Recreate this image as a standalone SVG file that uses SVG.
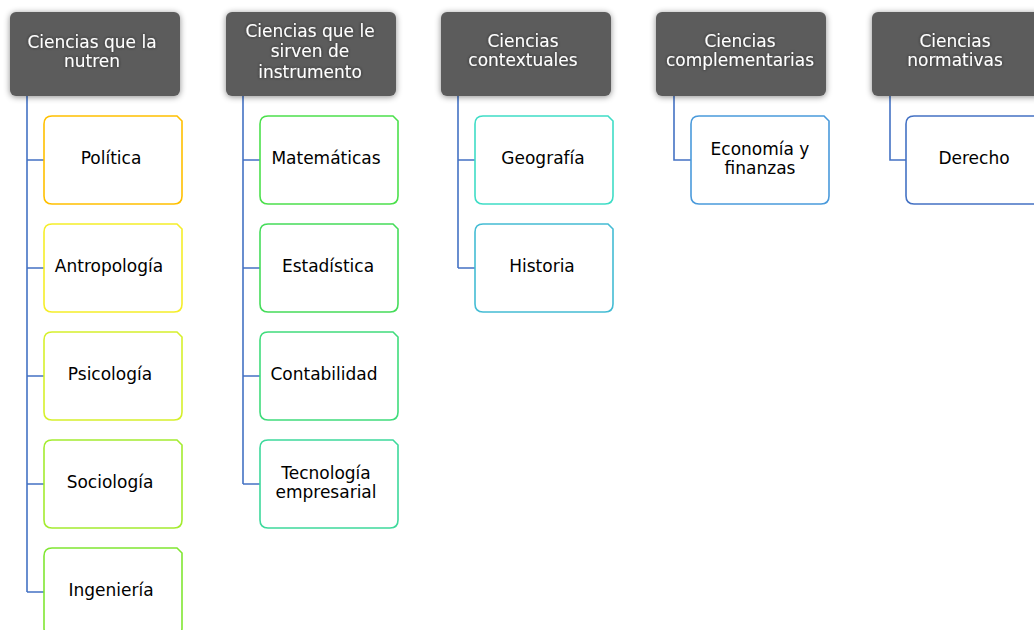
<svg xmlns="http://www.w3.org/2000/svg" width="1034" height="630" viewBox="0 0 1034 630">
<defs>
<filter id="sh" x="-20%" y="-20%" width="140%" height="150%">
<feDropShadow dx="0" dy="1" stdDeviation="3" flood-color="#000" flood-opacity="0.45"/>
</filter>
<filter id="tg" x="-10%" y="-30%" width="120%" height="160%">
<feDropShadow dx="0" dy="0" stdDeviation="1.5" flood-color="#222" flood-opacity="0.8"/>
</filter>
<path id="cb" d="M8,0 H133 L138,5 V80 Q138,88 130,88 H8 Q0,88 0,80 V8 Q0,0 8,0 Z"/>
</defs>
<style>
.hd{fill:#5b5b5b;filter:url(#sh)}
.ht{fill:#fff;font-family:"DejaVu Sans",Verdana,sans-serif;font-size:17px;text-anchor:middle;filter:url(#tg)}
.ct{fill:#000;font-family:"DejaVu Sans",Verdana,sans-serif;font-size:17px;text-anchor:middle}
.cb{fill:#fff;stroke-width:1.6}
.cn{fill:none;stroke:#4472C4;stroke-width:1.6}
</style>
<rect width="1034" height="630" fill="#fff"/>
<g id="connectors">
<path class="cn" d="M27,96 V592 M27,160 H44 M27,268 H44 M27,376 H44 M27,484 H44 M27,592 H44"/>
<path class="cn" d="M243,96 V484 M243,160 H260 M243,268 H260 M243,376 H260 M243,484 H260"/>
<path class="cn" d="M458,96 V268 M458,160 H475 M458,268 H475"/>
<path class="cn" d="M674,96 V160 H691"/>
<path class="cn" d="M890,96 V160 H906"/>
</g>
<g id="h1"><rect class="hd" x="10" y="12" width="170" height="84" rx="6"/><text class="ht" x="92" y="48">Ciencias que la</text><text class="ht" x="92" y="67">nutren</text></g>
<g id="h2"><rect class="hd" x="226" y="12" width="170" height="84" rx="6"/><text class="ht" x="310" y="37">Ciencias que le</text><text class="ht" x="310" y="57">sirven de</text><text class="ht" x="310" y="78">instrumento</text></g>
<g id="h3"><rect class="hd" x="441" y="12" width="170" height="84" rx="6"/><text class="ht" x="523" y="47">Ciencias</text><text class="ht" x="523" y="66">contextuales</text></g>
<g id="h4"><rect class="hd" x="656" y="12" width="170" height="84" rx="6"/><text class="ht" x="740" y="47">Ciencias</text><text class="ht" x="740" y="66">complementarias</text></g>
<g id="h5"><rect class="hd" x="872" y="12" width="170" height="84" rx="6"/><text class="ht" x="955" y="47">Ciencias</text><text class="ht" x="955" y="66">normativas</text></g>

<g id="c1"><use href="#cb" class="cb" x="44" y="116" stroke="#FFC000"/><text class="ct" x="111" y="164">Política</text></g>
<g id="c2"><use href="#cb" class="cb" x="44" y="224" stroke="#F5EE2A"/><text class="ct" x="109" y="272">Antropología</text></g>
<g id="c3"><use href="#cb" class="cb" x="44" y="332" stroke="#D6F02C"/><text class="ct" x="110" y="380">Psicología</text></g>
<g id="c4"><use href="#cb" class="cb" x="44" y="440" stroke="#A4EC30"/><text class="ct" x="110" y="488">Sociología</text></g>
<g id="c5"><use href="#cb" class="cb" x="44" y="548" stroke="#80E632"/><text class="ct" x="111" y="596">Ingeniería</text></g>

<g id="c6"><use href="#cb" class="cb" x="260" y="116" stroke="#4CE04C"/><text class="ct" x="326" y="164">Matemáticas</text></g>
<g id="c7"><use href="#cb" class="cb" x="260" y="224" stroke="#45DC5A"/><text class="ct" x="328" y="272">Estadística</text></g>
<g id="c8"><use href="#cb" class="cb" x="260" y="332" stroke="#40DC7C"/><text class="ct" x="324" y="380">Contabilidad</text></g>
<g id="c9"><use href="#cb" class="cb" x="260" y="440" stroke="#3ED99C"/><text class="ct" x="326" y="479">Tecnología</text><text class="ct" x="326" y="498">empresarial</text></g>

<g id="c10"><use href="#cb" class="cb" x="475" y="116" stroke="#3FDDC6"/><text class="ct" x="543" y="164">Geografía</text></g>
<g id="c11"><use href="#cb" class="cb" x="475" y="224" stroke="#44BCD4"/><text class="ct" x="542" y="272">Historia</text></g>

<g id="c12"><use href="#cb" class="cb" x="691" y="116" stroke="#4A9ADB"/><text class="ct" x="760" y="155">Economía y</text><text class="ct" x="760" y="174">finanzas</text></g>

<g id="c13"><use href="#cb" class="cb" x="906" y="116" stroke="#4472C4"/><text class="ct" x="974" y="164">Derecho</text></g>
</svg>
